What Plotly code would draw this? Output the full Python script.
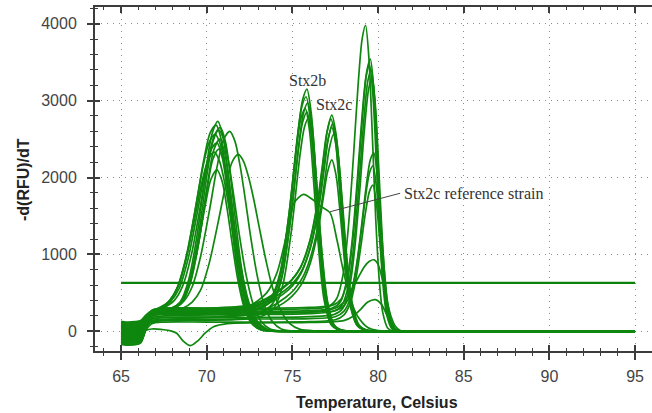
import plotly.graph_objects as go

# ---- melt-curve data: temperature (deg C) and -d(RFU)/dT ----
# peak near 70-72 C
a1_temp = [65.0, 65.3, 65.8, 66.15, 66.45, 66.8, 67.3, 67.95, 68.45, 68.95, 69.45, 69.95, 70.3, 70.65, 70.95, 71.25, 71.55, 71.85, 72.25, 72.65, 73.15, 73.65, 76.0, 95.0]
a1_rfu = [-120, -135, -130, -110, 60, 230, 260, 300, 380, 670, 1270, 2090, 2560, 2730, 2530, 2050, 1450, 900, 390, 130, 30, 5, 0, 0]
a2_temp = [65.0, 65.3, 65.8, 66.15, 66.45, 66.8, 67.3, 67.85, 68.35, 68.85, 69.35, 69.85, 70.2, 70.55, 70.85, 71.15, 71.45, 71.75, 72.15, 72.55, 73.05, 73.55, 76.0, 95.0]
a2_rfu = [60, 45, 50, 70, 160, 260, 300, 400, 590, 1000, 1610, 2250, 2580, 2680, 2490, 2020, 1420, 880, 380, 130, 30, 5, 0, 0]
a3_temp = [65.0, 65.3, 65.8, 66.15, 66.45, 66.8, 67.3, 68.0, 68.5, 69.0, 69.5, 70.0, 70.35, 70.7, 71.0, 71.3, 71.6, 71.9, 72.3, 72.7, 73.2, 73.7, 74.3, 76.0, 95.0]
a3_rfu = [120, 110, 115, 130, 190, 250, 270, 300, 380, 650, 1220, 2010, 2460, 2620, 2490, 2170, 1730, 1260, 730, 360, 120, 30, 5, 0, 0]
a4_temp = [65.0, 65.3, 65.8, 66.15, 66.45, 66.8, 67.3, 67.8, 68.3, 68.8, 69.3, 69.8, 70.15, 70.5, 70.8, 71.1, 71.4, 71.7, 72.1, 72.5, 73.0, 73.5, 74.1, 76.0, 95.0]
a4_rfu = [-60, -75, -70, -50, 110, 240, 290, 390, 580, 970, 1540, 2160, 2460, 2560, 2430, 2120, 1690, 1230, 710, 350, 120, 30, 5, 0, 0]
a5_temp = [65.0, 65.3, 65.8, 66.15, 66.45, 66.8, 67.3, 68.05, 68.55, 69.05, 69.55, 70.05, 70.4, 70.75, 71.05, 71.35, 71.65, 71.95, 72.35, 72.75, 73.25, 73.75, 76.0, 95.0]
a5_rfu = [-150, -165, -170, -140, 40, 220, 260, 300, 370, 630, 1170, 1920, 2350, 2500, 2320, 1880, 1330, 820, 360, 120, 30, 5, 0, 0]
a6_temp = [65.0, 65.3, 65.8, 66.15, 66.45, 66.8, 67.3, 67.9, 68.4, 68.9, 69.4, 69.9, 70.25, 70.6, 70.9, 71.2, 71.5, 71.8, 72.2, 72.6, 73.1, 73.6, 76.0, 95.0]
a6_rfu = [20, 5, 10, 30, 140, 250, 290, 390, 560, 930, 1480, 2070, 2360, 2450, 2270, 1840, 1300, 800, 350, 120, 30, 5, 0, 0]
a7_temp = [65.0, 65.3, 65.8, 66.15, 66.45, 66.8, 67.3, 68.0, 68.5, 69.0, 69.5, 70.0, 70.35, 70.7, 71.0, 71.3, 71.6, 71.9, 72.3, 72.7, 73.2, 73.7, 76.0, 95.0]
a7_rfu = [100, 90, 95, 110, 180, 240, 270, 300, 360, 610, 1120, 1820, 2230, 2370, 2200, 1780, 1260, 780, 340, 120, 30, 5, 0, 0]
a8_temp = [65.0, 65.3, 65.8, 66.15, 66.45, 66.8, 67.25, 67.75, 68.25, 68.75, 69.25, 69.75, 70.1, 70.45, 70.75, 71.05, 71.35, 71.65, 72.05, 72.45, 72.95, 73.45, 74.0, 76.0, 95.0]
a8_rfu = [-90, -105, -100, -80, 90, 250, 310, 380, 550, 900, 1410, 1970, 2240, 2330, 2210, 1930, 1540, 1120, 650, 320, 110, 30, 5, 0, 0]
a9_temp = [65.0, 65.3, 65.8, 66.15, 66.45, 66.8, 67.3, 67.9, 68.65, 69.15, 69.65, 70.15, 70.65, 71.0, 71.35, 71.65, 71.95, 72.25, 72.55, 72.95, 73.35, 73.85, 74.35, 75.0, 76.5, 95.0]
a9_rfu = [40, 25, 30, 50, 150, 230, 260, 300, 390, 580, 980, 1560, 2190, 2500, 2600, 2470, 2150, 1720, 1250, 720, 350, 120, 30, 5, 0, 0]
a10_temp = [65.0, 65.3, 65.8, 66.15, 66.45, 66.8, 67.3, 68.0, 68.6, 69.15, 69.65, 70.15, 70.65, 71.15, 71.5, 71.85, 72.15, 72.45, 72.75, 73.05, 73.45, 73.85, 74.35, 74.85, 75.45, 76.5, 95.0]
a10_rfu = [-30, -45, -40, -20, 120, 220, 250, 270, 300, 380, 540, 890, 1400, 1940, 2210, 2300, 2210, 2000, 1710, 1370, 930, 560, 260, 100, 25, 5, 0]
a11_temp = [65.0, 65.3, 65.8, 66.15, 66.45, 66.8, 67.3, 67.9, 68.4, 68.9, 69.4, 69.9, 70.25, 70.6, 70.9, 71.2, 71.5, 71.8, 72.2, 72.6, 73.1, 73.6, 76.0, 95.0]
a11_rfu = [-170, -180, -175, -150, 30, 210, 250, 290, 350, 560, 1010, 1620, 1980, 2100, 1950, 1580, 1120, 690, 300, 110, 25, 5, 0, 0]
a12_temp = [65.0, 65.3, 65.8, 66.15, 66.45, 66.8, 67.3, 68.1, 68.6, 69.1, 69.6, 70.1, 70.45, 70.8, 71.1, 71.4, 71.7, 72.0, 72.4, 72.8, 73.3, 73.8, 76.0, 95.0]
a12_rfu = [-100, -115, -110, -90, 80, 230, 280, 400, 590, 990, 1590, 2230, 2550, 2650, 2460, 1990, 1410, 870, 380, 130, 30, 5, 0, 0]

# Stx2b peak near 75.9 C
b1_temp = [65.0, 65.3, 65.8, 66.15, 66.45, 66.8, 67.5, 69.5, 71.35, 72.55, 73.25, 73.85, 74.35, 74.85, 75.35, 75.6, 75.85, 76.1, 76.35, 76.65, 76.95, 77.35, 77.85, 80.0, 95.0]
b1_rfu = [-20, -35, -30, -10, 130, 250, 280, 280, 280, 300, 340, 450, 770, 1550, 2620, 3010, 3150, 2840, 2100, 1120, 450, 100, 15, 5, 0]
b2_temp = [65.0, 65.3, 65.8, 66.15, 66.45, 66.8, 67.5, 69.5, 71.3, 72.5, 73.2, 73.8, 74.3, 74.8, 75.3, 75.55, 75.8, 76.05, 76.3, 76.6, 76.9, 77.3, 77.8, 80.0, 95.0]
b2_rfu = [-40, -55, -50, -30, 120, 270, 300, 300, 300, 320, 360, 460, 780, 1520, 2540, 2920, 3050, 2750, 2040, 1080, 440, 90, 15, 5, 0]
b3_temp = [65.0, 65.3, 65.8, 66.15, 66.45, 66.8, 67.5, 69.5, 71.4, 72.6, 73.3, 73.9, 74.4, 74.9, 75.4, 75.65, 75.9, 76.15, 76.4, 76.7, 77.0, 77.4, 77.9, 80.0, 95.0]
b3_rfu = [80, 70, 75, 90, 170, 240, 260, 260, 260, 280, 320, 420, 730, 1460, 2470, 2840, 2970, 2680, 1980, 1060, 430, 90, 15, 5, 0]
b4_temp = [65.0, 65.3, 65.8, 66.15, 66.45, 66.8, 67.5, 69.5, 71.25, 72.45, 73.15, 73.75, 74.25, 74.75, 75.25, 75.5, 75.75, 76.0, 76.25, 76.55, 76.85, 77.25, 77.75, 80.0, 95.0]
b4_rfu = [-130, -145, -140, -120, 50, 220, 240, 240, 240, 260, 300, 400, 700, 1420, 2410, 2770, 2900, 2610, 1920, 1030, 410, 90, 15, 5, 0]
b5_temp = [65.0, 65.3, 65.8, 66.15, 66.45, 66.8, 67.5, 69.5, 71.35, 72.55, 73.25, 73.85, 74.35, 74.85, 75.35, 75.6, 75.85, 76.1, 76.35, 76.65, 76.95, 77.35, 77.85, 80.0, 95.0]
b5_rfu = [10, -5, 0, 20, 110, 180, 200, 200, 200, 220, 260, 360, 660, 1380, 2360, 2720, 2850, 2560, 1880, 1010, 400, 90, 10, 5, 0]
b6_temp = [65.0, 65.3, 65.8, 66.15, 66.45, 66.8, 67.5, 69.5, 71.45, 72.65, 73.35, 73.95, 74.45, 74.95, 75.45, 75.7, 75.95, 76.2, 76.45, 76.75, 77.05, 77.45, 77.95, 80.0, 95.0]
b6_rfu = [-80, -95, -90, -70, 40, 130, 150, 150, 150, 170, 210, 310, 610, 1320, 2300, 2650, 2780, 2490, 1810, 970, 390, 80, 10, 5, 0]

# Stx2c peak near 77.3 C
c1_temp = [65.0, 65.3, 65.8, 66.15, 66.45, 66.8, 67.5, 70.0, 72.5, 73.5, 74.5, 75.0, 75.5, 76.05, 76.5, 76.8, 77.05, 77.3, 77.55, 77.8, 78.1, 78.4, 78.8, 79.3, 81.0, 95.0]
c1_rfu = [130, 120, 125, 140, 210, 270, 300, 300, 340, 430, 580, 680, 840, 1190, 1700, 2200, 2620, 2810, 2560, 1900, 1000, 400, 90, 15, 0, 0]
c2_temp = [65.0, 65.3, 65.8, 66.15, 66.45, 66.8, 67.5, 70.0, 72.45, 73.45, 74.45, 74.95, 75.45, 76.0, 76.45, 76.75, 77.0, 77.25, 77.5, 77.75, 78.05, 78.35, 78.75, 79.25, 81.0, 95.0]
c2_rfu = [-10, -25, -20, 0, 130, 250, 280, 280, 320, 410, 560, 660, 820, 1160, 1660, 2150, 2570, 2760, 2510, 1860, 980, 390, 90, 15, 0, 0]
c3_temp = [65.0, 65.3, 65.8, 66.15, 66.45, 66.8, 67.5, 70.0, 72.55, 73.55, 74.55, 75.05, 75.55, 76.1, 76.55, 76.85, 77.1, 77.35, 77.6, 77.85, 78.15, 78.45, 78.85, 79.35, 81.0, 95.0]
c3_rfu = [70, 55, 60, 80, 160, 240, 260, 260, 300, 390, 530, 630, 790, 1130, 1620, 2100, 2510, 2700, 2460, 1820, 960, 380, 85, 15, 0, 0]
c4_temp = [65.0, 65.3, 65.8, 66.15, 66.45, 66.8, 67.5, 70.0, 72.5, 73.5, 74.5, 75.0, 75.5, 76.05, 76.5, 76.8, 77.05, 77.3, 77.55, 77.8, 78.1, 78.4, 78.8, 79.3, 81.0, 95.0]
c4_rfu = [-110, -125, -120, -100, 60, 200, 220, 220, 260, 350, 490, 590, 750, 1090, 1580, 2060, 2460, 2650, 2410, 1790, 940, 370, 80, 12, 0, 0]
c5_temp = [65.0, 65.3, 65.8, 66.15, 66.45, 66.8, 67.5, 70.0, 72.6, 73.6, 74.6, 75.1, 75.6, 76.15, 76.6, 76.9, 77.15, 77.4, 77.65, 77.9, 78.2, 78.5, 78.9, 79.4, 81.0, 95.0]
c5_rfu = [-140, -155, -150, -130, 20, 160, 180, 180, 220, 300, 440, 540, 700, 1030, 1510, 1980, 2370, 2560, 2330, 1730, 910, 360, 80, 12, 0, 0]
c6_temp = [65.0, 65.3, 65.8, 66.15, 66.45, 66.8, 67.5, 70.0, 72.5, 73.5, 74.5, 75.0, 75.5, 76.05, 76.5, 76.8, 77.05, 77.3, 77.55, 77.8, 78.1, 78.4, 78.8, 79.3, 81.0, 95.0]
c6_rfu = [50, 35, 40, 60, 100, 120, 140, 140, 180, 250, 370, 460, 600, 890, 1310, 1730, 2070, 2230, 2030, 1510, 790, 310, 70, 10, 0, 0]

# Stx2c reference strain, broad peak near 75.7 C
ref_temp = [65.0, 65.3, 65.8, 66.15, 66.45, 66.8, 67.5, 70.0, 71.5, 72.5, 73.5, 74.1, 74.5, 74.8, 75.1, 75.65, 76.2, 76.7, 77.2, 77.6, 78.0, 78.4, 78.8, 79.4, 80.0, 82.0, 95.0]
ref_rfu = [-95, -110, -105, -85, 60, 200, 230, 240, 270, 330, 500, 760, 1100, 1410, 1670, 1780, 1710, 1620, 1540, 1190, 760, 410, 200, 50, 10, 0, 0]

# peak near 79.3-79.8 C
d1_temp = [65.0, 65.3, 65.8, 66.15, 66.45, 66.8, 67.5, 70.0, 73.0, 75.5, 77.07, 77.57, 77.97, 78.27, 78.57, 78.82, 79.07, 79.27, 79.47, 79.67, 79.87, 80.07, 80.27, 80.57, 80.87, 82.0, 95.0]
d1_rfu = [110, 95, 100, 120, 190, 250, 280, 280, 280, 290, 320, 420, 750, 1360, 2290, 3150, 3800, 3980, 3540, 2530, 1440, 670, 250, 40, 3, 0, 0]
d2_temp = [65.0, 65.3, 65.8, 66.15, 66.45, 66.8, 67.5, 70.0, 73.5, 76.0, 77.35, 77.85, 78.25, 78.55, 78.85, 79.1, 79.35, 79.55, 79.75, 79.95, 80.15, 80.35, 80.55, 80.85, 81.15, 82.0, 95.0]
d2_rfu = [-160, -170, -165, -140, 40, 270, 300, 300, 300, 310, 340, 420, 720, 1250, 2060, 2820, 3390, 3540, 3150, 2250, 1280, 600, 220, 40, 3, 0, 0]
d3_temp = [65.0, 65.3, 65.8, 66.15, 66.45, 66.8, 67.5, 70.0, 73.5, 76.0, 77.3, 77.8, 78.2, 78.5, 78.8, 79.05, 79.3, 79.5, 79.7, 79.9, 80.1, 80.3, 80.5, 80.8, 81.1, 82.0, 95.0]
d3_rfu = [30, 15, 20, 40, 150, 230, 260, 260, 260, 270, 300, 380, 680, 1200, 2000, 2750, 3310, 3460, 3070, 2200, 1250, 580, 220, 35, 3, 0, 0]
d4_temp = [65.0, 65.3, 65.8, 66.15, 66.45, 66.8, 67.5, 70.0, 73.5, 76.0, 77.4, 77.9, 78.3, 78.6, 78.9, 79.15, 79.4, 79.6, 79.8, 80.0, 80.2, 80.4, 80.6, 80.9, 81.2, 82.0, 95.0]
d4_rfu = [-50, -65, -60, -40, 90, 200, 220, 220, 220, 230, 260, 340, 630, 1150, 1950, 2690, 3250, 3400, 3020, 2160, 1230, 570, 210, 35, 3, 0, 0]
d5_temp = [65.0, 65.3, 65.8, 66.15, 66.45, 66.8, 67.5, 70.0, 73.5, 76.0, 77.45, 77.95, 78.35, 78.65, 78.95, 79.2, 79.45, 79.65, 79.85, 80.05, 80.25, 80.45, 80.65, 80.95, 81.25, 82.0, 95.0]
d5_rfu = [90, 75, 80, 100, 150, 160, 180, 180, 180, 190, 220, 300, 590, 1100, 1880, 2610, 3150, 3300, 2920, 2090, 1190, 550, 200, 30, 3, 0, 0]
d6_temp = [65.0, 65.3, 65.8, 66.15, 66.45, 66.8, 67.5, 70.0, 73.5, 76.0, 77.55, 78.05, 78.45, 78.75, 79.05, 79.3, 79.55, 79.75, 79.95, 80.15, 80.35, 80.55, 80.75, 81.05, 81.35, 82.0, 95.0]
d6_rfu = [-70, -85, -80, -60, 80, 210, 240, 240, 240, 250, 270, 340, 530, 870, 1390, 1870, 2230, 2320, 2050, 1470, 840, 390, 150, 25, 2, 0, 0]
d7_temp = [65.0, 65.3, 65.8, 66.15, 66.45, 66.8, 67.5, 70.0, 73.5, 76.0, 77.5, 78.0, 78.4, 78.7, 79.0, 79.25, 79.5, 79.7, 79.9, 80.1, 80.3, 80.5, 80.7, 81.0, 81.3, 82.0, 95.0]
d7_rfu = [0, -15, -10, 10, 90, 140, 160, 160, 160, 165, 190, 260, 440, 770, 1260, 1720, 2060, 2150, 1890, 1350, 770, 360, 130, 20, 2, 0, 0]
d8_temp = [65.0, 65.3, 65.8, 66.15, 66.45, 66.8, 67.5, 70.0, 73.5, 76.0, 77.5, 78.0, 78.4, 78.7, 79.0, 79.25, 79.5, 79.7, 79.9, 80.1, 80.3, 80.5, 80.7, 81.0, 81.3, 82.0, 95.0]
d8_rfu = [-125, -140, -135, -110, 20, 100, 120, 120, 120, 125, 150, 210, 380, 670, 1110, 1520, 1820, 1900, 1670, 1190, 680, 310, 120, 20, 2, 0, 0]
d9_temp = [65.0, 65.3, 65.8, 66.15, 66.45, 66.8, 67.5, 70.0, 74.0, 76.5, 77.5, 78.0, 78.4, 78.8, 79.2, 79.5, 79.76, 80.0, 80.25, 80.5, 80.75, 81.0, 81.3, 82.0, 95.0]
d9_rfu = [-15, -30, -25, -5, 120, 210, 240, 240, 240, 260, 300, 380, 520, 680, 840, 910, 930, 870, 680, 420, 200, 70, 10, 0, 0]
d10_temp = [65.0, 65.3, 65.8, 66.15, 66.45, 66.8, 67.5, 67.9, 68.25, 68.6, 69.05, 69.5, 69.9, 70.4, 71.2, 73.0, 76.0, 78.0, 78.5, 79.0, 79.4, 79.85, 80.2, 80.5, 80.8, 81.1, 82.0, 95.0]
d10_rfu = [-60, -75, -70, -50, 10, 30, 20, 5, -25, -120, -186, -120, -25, 60, 100, 110, 115, 140, 190, 290, 380, 412, 350, 220, 90, 15, 0, 0]

# threshold line
threshold_temp = [65.0, 95.0]
threshold_rfu = [630, 630]

curves = [
    (a1_temp, a1_rfu), (a2_temp, a2_rfu), (a3_temp, a3_rfu), (a4_temp, a4_rfu),
    (a5_temp, a5_rfu), (a6_temp, a6_rfu), (a7_temp, a7_rfu), (a8_temp, a8_rfu),
    (a9_temp, a9_rfu), (a10_temp, a10_rfu), (a11_temp, a11_rfu), (a12_temp, a12_rfu),
    (b1_temp, b1_rfu), (b2_temp, b2_rfu), (b3_temp, b3_rfu), (b4_temp, b4_rfu),
    (b5_temp, b5_rfu), (b6_temp, b6_rfu),
    (c1_temp, c1_rfu), (c2_temp, c2_rfu), (c3_temp, c3_rfu), (c4_temp, c4_rfu),
    (c5_temp, c5_rfu), (c6_temp, c6_rfu),
    (ref_temp, ref_rfu),
    (d1_temp, d1_rfu), (d2_temp, d2_rfu), (d3_temp, d3_rfu), (d4_temp, d4_rfu),
    (d5_temp, d5_rfu), (d6_temp, d6_rfu), (d7_temp, d7_rfu), (d8_temp, d8_rfu),
    (d9_temp, d9_rfu), (d10_temp, d10_rfu),
]

GREEN = "#0f870f"
AXIS = "#3c3c3c"
GRID = "#8c8c8c"
SANS = "Liberation Sans, Arial, sans-serif"
SERIF = "Liberation Serif, Times New Roman, serif"

fig = go.Figure()
for t, v in curves:
    fig.add_trace(go.Scatter(
        x=t, y=v, mode="lines",
        line=dict(color=GREEN, width=1.7, shape="spline", smoothing=0.8),
        hoverinfo="skip", showlegend=False,
    ))

fig.add_trace(go.Scatter(
    x=threshold_temp, y=threshold_rfu, mode="lines",
    line=dict(color="#0c820c", width=2.2), hoverinfo="skip", showlegend=False,
))

X_RANGE = [63.48, 95.99]
Y_RANGE = [-256, 4217]

fig.update_layout(
    width=652, height=413,
    margin=dict(l=95, r=0, t=7, b=62),
    plot_bgcolor="white", paper_bgcolor="white",
    showlegend=False,
    xaxis=dict(
        range=X_RANGE, tick0=65, dtick=5, ticks="outside", ticklen=7,
        tickwidth=1.5, tickcolor=AXIS, showline=True, linecolor=AXIS, linewidth=2,
        showgrid=True, gridcolor=GRID, griddash="1px,5px", gridwidth=1.3,
        zeroline=False, ticklabelstandoff=3,
        tickfont=dict(family=SANS, size=16, color="#444444"),
        minor=dict(ticks="outside", dtick=1, ticklen=3, tickcolor=AXIS, tickwidth=1.3, showgrid=False),
    ),
    xaxis2=dict(
        range=X_RANGE, overlaying="x", matches="x", side="bottom",
        tick0=65, dtick=5, ticks="inside", ticklen=6, tickwidth=1.5, tickcolor=AXIS,
        showline=True, linecolor=AXIS, linewidth=2, mirror="ticks",
        showticklabels=False, showgrid=False, zeroline=False,
        minor=dict(ticks="inside", dtick=1, ticklen=3, tickcolor=AXIS, tickwidth=1.3, showgrid=False),
    ),
    yaxis=dict(
        range=Y_RANGE, tick0=0, dtick=1000, ticks="outside", ticklen=6,
        tickwidth=1.5, tickcolor=AXIS, showline=True, linecolor=AXIS, linewidth=2,
        showgrid=True, gridcolor=GRID, griddash="1px,5px", gridwidth=1.3,
        zeroline=False, ticklabelstandoff=7,
        tickfont=dict(family=SANS, size=16, color="#444444"),
        minor=dict(ticks="outside", dtick=200, ticklen=3, tickcolor=AXIS, tickwidth=1.3, showgrid=False),
    ),
    yaxis2=dict(
        range=Y_RANGE, overlaying="y", matches="y", side="left",
        tick0=0, dtick=1000, ticks="inside", ticklen=5, tickwidth=1.5, tickcolor=AXIS,
        showline=False, showticklabels=False, showgrid=False, zeroline=False,
        minor=dict(ticks="inside", dtick=200, ticklen=3, tickcolor=AXIS, tickwidth=1.3, showgrid=False),
    ),
)

# an invisible trace so the overlay axes are drawn
fig.add_trace(go.Scatter(x=[X_RANGE[0]], y=[Y_RANGE[0]], xaxis="x2", yaxis="y2",
                         mode="markers", marker=dict(opacity=0), hoverinfo="skip",
                         showlegend=False))

# axis titles
fig.add_annotation(text="<b>Temperature, Celsius</b>", xref="paper", yref="paper",
                   x=0.507, y=0, yshift=-51, showarrow=False, yanchor="middle",
                   font=dict(family=SANS, size=16, color="#222222"))
fig.add_annotation(text="<b>-d(RFU)/dT</b>", xref="paper", yref="paper",
                   x=0, xshift=-72, y=0.497, showarrow=False, textangle=-90,
                   xanchor="center", yanchor="middle",
                   font=dict(family=SANS, size=16, color="#222222"))

# peak labels
fig.add_annotation(text="Stx2b", x=75.86, y=3255, showarrow=False,
                   font=dict(family=SERIF, size=16, color="#333333"))
fig.add_annotation(text="Stx2c", x=77.43, y=2943, showarrow=False,
                   font=dict(family=SERIF, size=16, color="#333333"))
fig.add_annotation(text="Stx2c reference strain", x=81.38, y=1798, showarrow=False,
                   xanchor="left", font=dict(family=SERIF, size=16, color="#333333"))
fig.add_shape(type="line", x0=77.2, y0=1555, x1=81.29, y1=1795,
              line=dict(color="#444444", width=1))

fig.write_html("out.html")
